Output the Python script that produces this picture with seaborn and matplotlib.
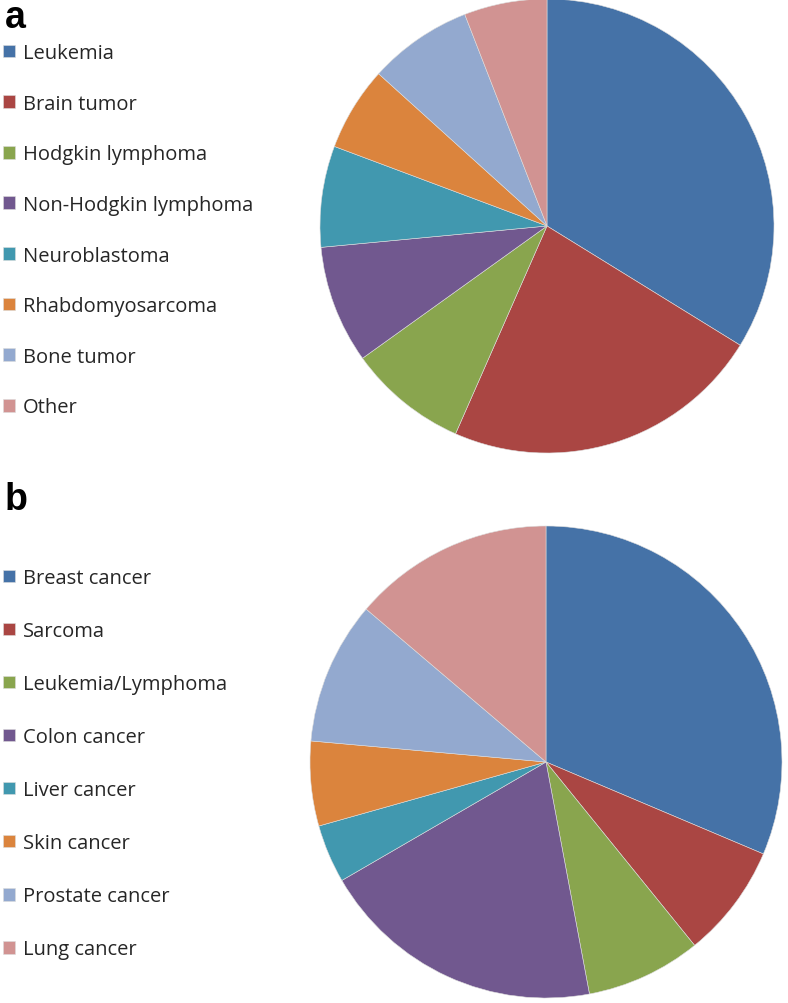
import matplotlib
matplotlib.use("Agg")
import matplotlib.pyplot as plt
import seaborn as sns

# panel a: childhood cancers (share, %)
labels_a = ["Leukemia", "Brain tumor", "Hodgkin lymphoma", "Non-Hodgkin lymphoma",
            "Neuroblastoma", "Rhabdomyosarcoma", "Bone tumor", "Other"]
values_a = [33.8, 22.8, 8.5, 8.4, 7.2, 6.0, 7.4, 5.9]

# panel b: adult cancers (share, %)
labels_b = ["Breast cancer", "Sarcoma", "Leukemia/Lymphoma", "Colon cancer",
            "Liver cancer", "Skin cancer", "Prostate cancer", "Lung cancer"]
values_b = [31.4, 7.8, 7.9, 19.6, 4.0, 5.8, 9.8, 13.8]

excel_colors = ["#4572A7", "#AA4643", "#89A54E", "#71588F",
                "#4198AF", "#DB843D", "#93A9CF", "#D19392"]

sns.set_theme(style="white")
plt.rcParams["font.family"] = ["Open Sans", "DejaVu Sans"]
palette = sns.color_palette(excel_colors)

W, H = 788, 1004
fig = plt.figure(figsize=(W / 100, H / 100), dpi=100)


def px_axes(x0, y0, w, h):
    return fig.add_axes([x0 / W, 1 - (y0 + h) / H, w / W, h / H])


def draw_panel(ax, values, labels, letter, letter_y, leg_y, spacing):
    wedges, _ = ax.pie(values, colors=palette, startangle=90, counterclock=False,
                       radius=1, wedgeprops=dict(linewidth=0.4, edgecolor="#dddddd"))
    ax.set_xlim(-1, 1)
    ax.set_ylim(-1, 1)
    ax.set_aspect("equal")
    fig.text(5 / W, 1 - letter_y / H, letter, fontsize=27, fontweight="bold",
             family=["Liberation Sans", "DejaVu Sans"], va="top", ha="left",
             color="black")
    fig.legend(wedges, labels, loc="upper left",
               bbox_to_anchor=(-5 / W, 1 - leg_y / H), frameon=False,
               fontsize=14.5, handlelength=0.6, handleheight=0.6,
               handletextpad=0.4, labelspacing=spacing, borderaxespad=0,
               labelcolor="#262626")


ax_a = px_axes(320, 0, 454, 454)
draw_panel(ax_a, values_a, labels_a, "a", 0, 36, 1.52)

ax_b = px_axes(310, 527, 472, 472)
draw_panel(ax_b, values_b, labels_b, "b", 482, 561, 1.64)

fig.savefig("out.png", dpi=100)
